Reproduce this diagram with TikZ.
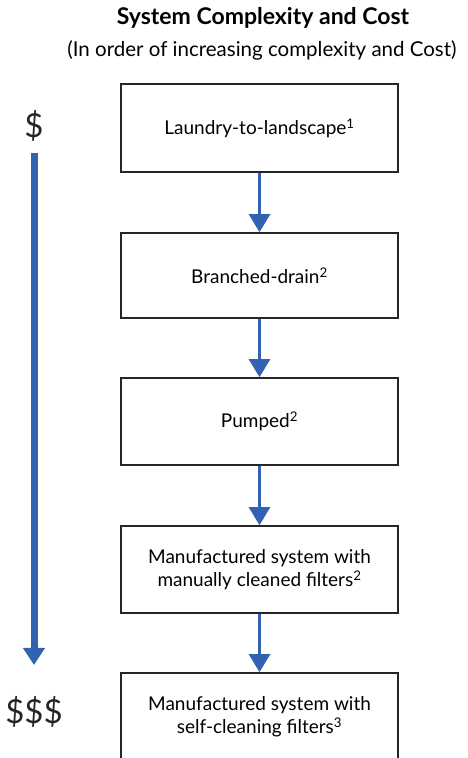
\documentclass[tikz,border=0pt]{standalone}
\usepackage{fontspec}
\setmainfont{Lato}
\usepackage{xcolor}
\usetikzlibrary{arrows.meta}
\definecolor{flowblue}{RGB}{52,98,178}

\begin{document}
\begin{tikzpicture}[x=1pt, y=-1pt,
    stage/.style={draw=black!85, line width=1.6pt, minimum width=277pt,
        minimum height=87pt, align=center, font=\fontsize{19}{23}\selectfont},
    flow/.style={draw=flowblue, line width=2.6pt,
        -{Triangle[length=18pt, width=21pt, fill=flowblue]}},
    costflow/.style={draw=flowblue, line width=7pt,
        -{Triangle[length=17pt, width=21pt, fill=flowblue]}},
    cost/.style={font=\fontsize{33}{35}\selectfont, text=black!85}]
    \useasboundingbox (0,0) rectangle (468,758);

    \node[font=\bfseries\fontsize{23}{26}\selectfont] (title) at (263,18) {System Complexity and Cost};
    \node[font=\fontsize{20.5}{24}\selectfont] (subtitle) at (262,50) {(In order of increasing complexity and Cost)};

    \node[stage, minimum height=88pt] (laundry) at (259.5,128) {Laundry-to-landscape\textsuperscript{1}};
    \node[stage, minimum height=85pt] (branched) at (259.5,275.5) {Branched-drain\textsuperscript{2}};
    \node[stage] (pumped) at (259.5,421.5) {Pumped\textsuperscript{2}};
    \node[stage] (manual) at (259.5,569.5) {Manufactured system with\\manually cleaned filters\textsuperscript{2}};
    \node[stage, minimum height=88pt] (selfclean) at (259.5,717) {Manufactured system with\\self-cleaning filters\textsuperscript{3}};

    \draw[flow] (laundry) -- (branched);
    \draw[flow] (branched) -- (pumped);
    \draw[flow] (pumped) -- (manual);
    \draw[flow] (manual) -- (selfclean);

    \node[cost] (cheap) at (34,126) {\$};
    \node[cost] (costly) at (34,712) {\$\$\$};
    \draw[costflow, shorten <=8pt, shorten >=28pt] (cheap) -- (costly);
\end{tikzpicture}
\end{document}
